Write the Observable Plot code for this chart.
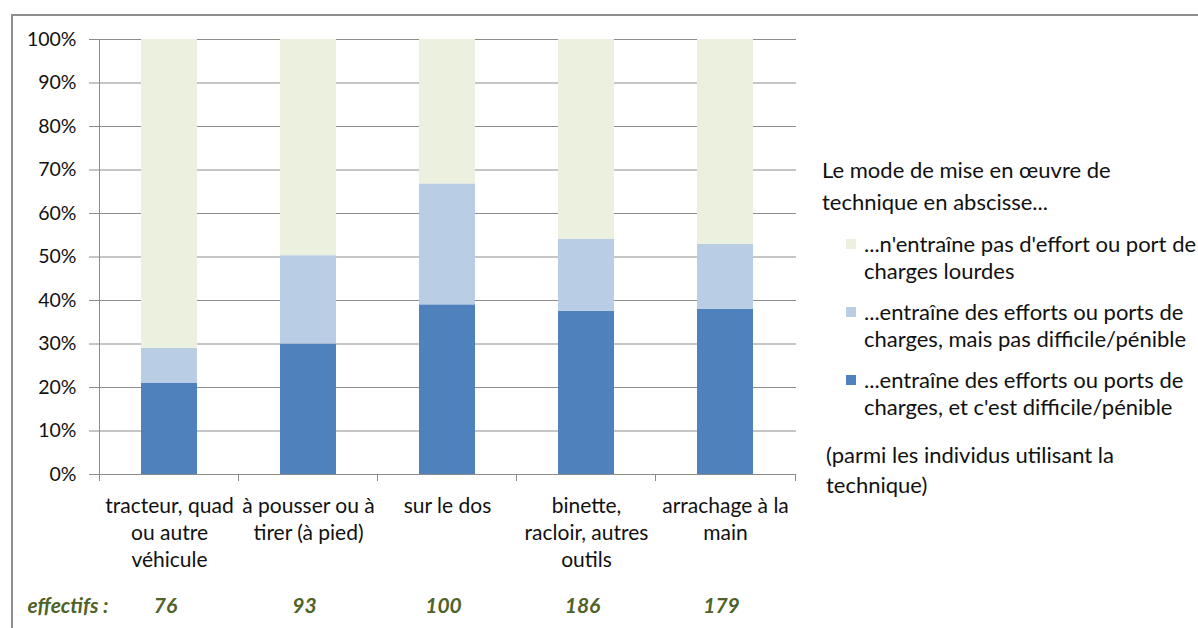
<!DOCTYPE html>
<html>
<head>
<meta charset="utf-8">
<script src="https://cdn.jsdelivr.net/npm/d3@7"></script>
<script src="https://cdn.jsdelivr.net/npm/@observablehq/plot@0.6"></script>
<style>
  html, body { margin: 0; padding: 0; background: #fff; }
  #wrap { position: relative; width: 1198px; height: 628px; overflow: hidden; font-family: Lato, "Open Sans", sans-serif; color: #000; }
  #wrap svg { position: absolute; left: 0; top: 0; }
  .frame { position: absolute; left: 11px; top: 14px; right: -2px; bottom: -2px; border-left: 2px solid #8f8f8f; border-top: 2px solid #8f8f8f; }
  .leg { position: absolute; font-size: 22px; white-space: nowrap; color: #111; }
  .sw { position: absolute; width: 10px; height: 10px; }
</style>
</head>
<body>
<div id="wrap"><div class="frame"></div></div>
<script>
// ---- data ----
const categories = [
  "tracteur, quad\nou autre\nvéhicule",
  "à pousser ou à\ntirer (à pied)",
  "sur le dos",
  "binette,\nracloir, autres\noutils",
  "arrachage à la\nmain"
];
const seriesNames = [
  "...entraîne des efforts ou ports de\ncharges, et c'est difficile/pénible",
  "...entraîne des efforts ou ports de\ncharges, mais pas difficile/pénible",
  "...n'entraîne pas d'effort ou port de\ncharges lourdes"
];
const seriesColors = ["#4F81BD", "#B9CDE5", "#EBF1DE"];
const penible    = [0.21, 0.30, 0.39, 0.375, 0.38];
const nonPenible = [0.08, 0.203, 0.278, 0.166, 0.149];
const aucun      = [0.71, 0.497, 0.332, 0.459, 0.471];
const effectifs  = [76, 93, 100, 186, 179];
const yTicks = [0, 0.1, 0.2, 0.3, 0.4, 0.5, 0.6, 0.7, 0.8, 0.9, 1];
const legendTitle = "Le mode de mise en œuvre de\ntechnique en abscisse...";
const legendNote = "(parmi les individus utilisant la\ntechnique)";
const effectifsLabel = "effectifs :";

// ---- table ----
const seriesValues = [penible, nonPenible, aucun];
const rows = [];
seriesNames.forEach((s, si) => {
  categories.forEach((c, ci) => rows.push({cat: c, series: s, value: seriesValues[si][ci]}));
});
const effRows = categories.map((c, i) => ({cat: c, n: effectifs[i]}));

const chart = Plot.plot({
  width: 1198,
  height: 628,
  marginLeft: 97,
  marginRight: 402,
  marginTop: 39,
  marginBottom: 154,
  style: {fontFamily: "Lato, 'Open Sans', sans-serif", fontSize: "20px", color: "#111", background: "transparent"},
  x: {domain: categories, padding: 0.6, paddingOuter: 0.3, label: null},
  y: {domain: [0, 1], label: null},
  color: {domain: seriesNames, range: seriesColors},
  marks: [
    Plot.ruleY(yTicks, {y: d => d, stroke: "#8c8c8c", strokeWidth: 1, insetLeft: -8}),
    Plot.barY(rows, Plot.stackY({order: null}, {x: "cat", y: "value", fill: "series"})),
    Plot.ruleY([0], {stroke: "#8c8c8c", insetLeft: -8}),
    Plot.ruleX(categories, {x: d => d, dx: -70, y1: 0, y2: 0, insetBottom: -7, stroke: "#8c8c8c"}),
    Plot.ruleX(categories.slice(-1), {x: d => d, dx: 70, y1: 0, y2: 0, insetBottom: -7, stroke: "#8c8c8c"}),
    Plot.ruleX([categories[0]], {x: d => d, dx: -70, stroke: "#8c8c8c"}),
    Plot.axisY({ticks: yTicks, tickFormat: d3.format(".0%"), tickSize: 0, tickPadding: 21, fontSize: 19.5}),
    Plot.axisX({tickSize: 0, tickPadding: 20, lineHeight: 1.27, fontSize: 21}),
    Plot.text(effRows, {x: "cat", text: d => String(d.n), frameAnchor: "bottom", dy: 138, dx: -4,
      fill: "#4F6228", fontWeight: "bold", fontStyle: "italic", fontSize: 21}),
    Plot.text([effectifsLabel], {text: d => d, frameAnchor: "bottom-left", textAnchor: "start", dx: -70, dy: 138,
      fill: "#4F6228", fontWeight: "bold", fontStyle: "italic", fontSize: 21})
  ]
});
const wrap = document.getElementById("wrap");
wrap.appendChild(chart);

// ---- legend (HTML) ----
function addText(txt, left, top, lh) {
  const d = document.createElement("div");
  d.className = "leg";
  d.style.left = left + "px";
  d.style.top = top + "px";
  d.style.lineHeight = lh + "px";
  d.innerHTML = txt.split("\n").map(s => s.replace(/&/g, "&amp;").replace(/</g, "&lt;")).join("<br>");
  wrap.appendChild(d);
}
addText(legendTitle, 822, 154, 32);
const legendOrder = [2, 1, 0];
const itemTops = [230, 298, 366];
legendOrder.forEach((si, k) => {
  const sw = document.createElement("div");
  sw.className = "sw";
  sw.style.left = "846px";
  sw.style.top = (itemTops[k] + 9) + "px";
  sw.style.background = seriesColors[si];
  wrap.appendChild(sw);
  addText(seriesNames[si], 864, itemTops[k], 27);
});
addText(legendNote, 826, 440, 30);
</script>
</body>
</html>
